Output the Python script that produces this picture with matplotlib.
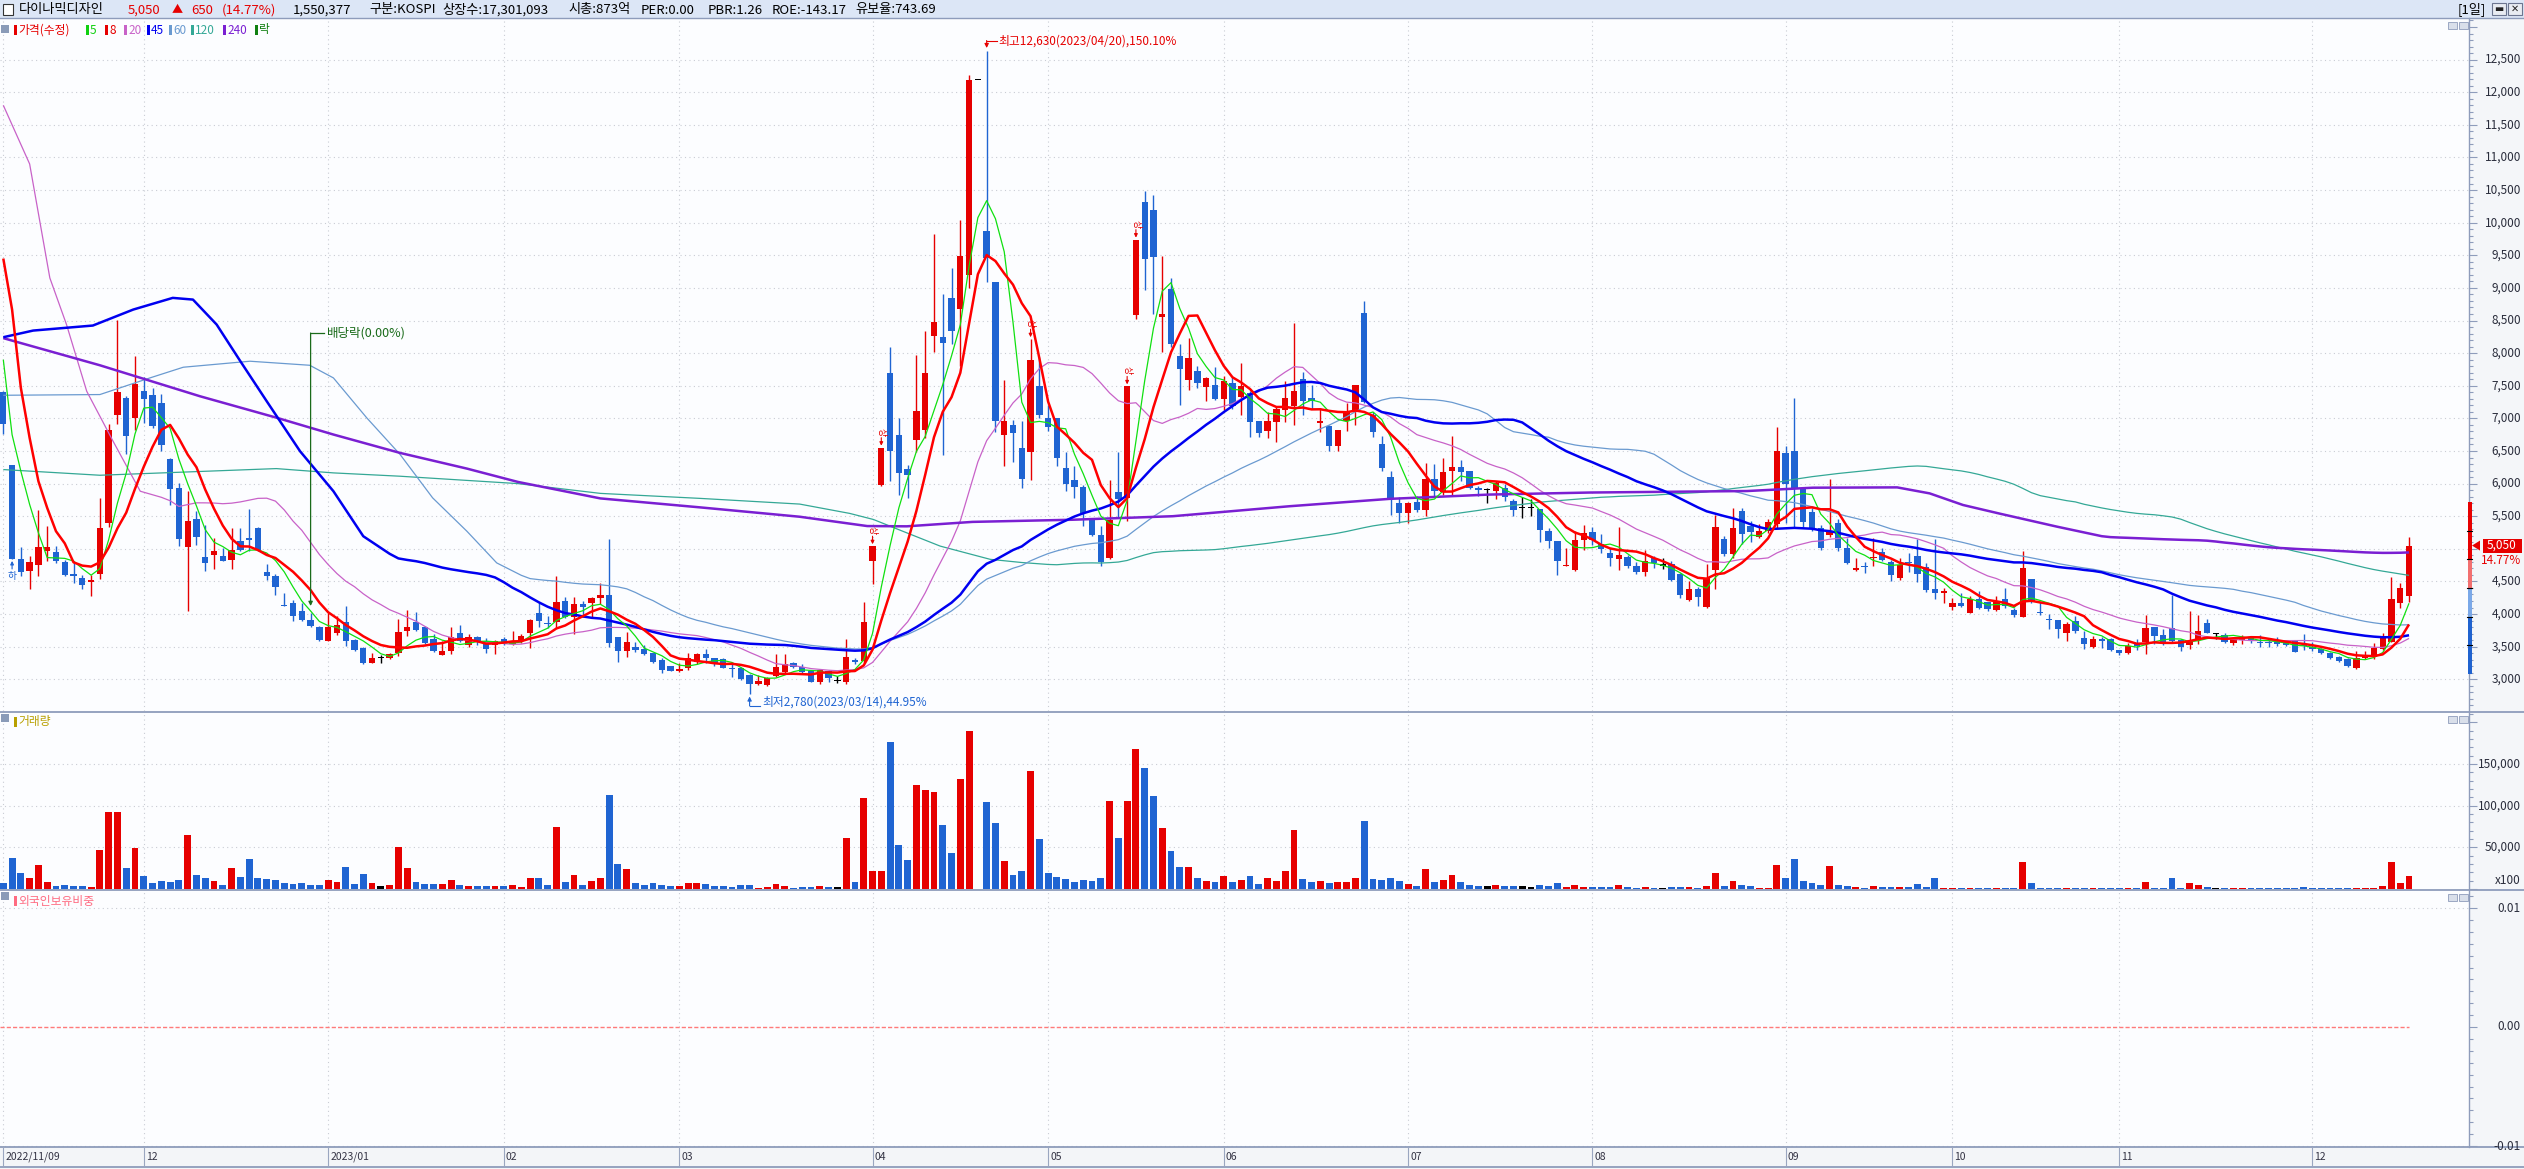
import numpy as np
import pandas as pd
import matplotlib
matplotlib.use("Agg")
import matplotlib.pyplot as plt
from matplotlib.patches import Rectangle, Polygon
from matplotlib.lines import Line2D
from matplotlib.ticker import MultipleLocator

plt.rcParams['font.family'] = ['Noto Sans CJK KR', 'DejaVu Sans']
plt.rcParams['axes.unicode_minus'] = False

# ---------------- data ----------------
opens = [7406, 6281, 4851, 4656, 4748, 4973, 4948, 4800, 4615, 4549,
         4498, 4621, 5397, 7058, 7314, 7007, 7416, 7355, 7237, 6384,
         5934, 5024, 5464, 4871, 4912, 4897, 4835, 5117, 5168, 5321,
         4641, 4580, 4135, 4171, 4054, 3915, 3798, 3584, 3711, 3875,
         3609, 3481, 3251, 3328, 3328, 3405, 3737, 3875, 3798, 3619,
         3379, 3440, 3711, 3532, 3645, 3584, 3532, 3620, 3540, 3586,
         3704, 4010, 3867, 3882, 4199, 3959, 4148, 4174, 4250, 4291,
         3652, 3438, 3489, 3458, 3397, 3295, 3208, 3126, 3167, 3269,
         3387, 3320, 3305, 3177, 3167, 3065, 2922, 2912, 3049, 3116,
         3244, 3182, 3131, 2963, 3131, 2988, 2963, 3285, 3274, 4819,
         5986, 7693, 6742, 6222, 6674, 6829, 8267, 8246, 8840, 8671,
         9204, 12193, 9879, 9090, 6748, 6897, 6546, 6492, 7490, 6998,
         7012, 6236, 6053, 5952, 5480, 5210, 4853, 5864, 5783, 8584,
         10318, 10189, 8550, 8989, 7956, 7592, 7727, 7488, 7513, 7299,
         7539, 7334, 7390, 6956, 6813, 6951, 7135, 7196, 7605, 7314,
         6926, 6890, 6583, 6966, 7104, 8617, 7058, 6609, 6098, 5699,
         5546, 5715, 5602, 6072, 5878, 6200, 6251, 6190, 5934, 5909,
         5893, 5929, 5730, 5638, 5638, 5612, 5270, 5117, 4731, 4677,
         5130, 5253, 5074, 4931, 4844, 4880, 4742, 4650, 4864, 4752,
         4762, 4609, 4215, 4379, 4113, 4675, 5145, 4920, 5585, 5350,
         5176, 5278, 5380, 6464, 6505, 5927, 5559, 5314, 5212, 5401,
         5007, 4675, 4735, 4864, 4956, 4803, 4547, 4790, 4895, 4716,
         4379, 4333, 4113, 4164, 4021, 4225, 4190, 4062, 4231, 4062,
         3960, 4537, 4025, 3912, 3909, 3715, 3893, 3638, 3500, 3612,
         3617, 3449, 3408, 3561, 3566, 3796, 3678, 3781, 3602, 3526,
         3602, 3858, 3705, 3679, 3561, 3602, 3643, 3566, 3565, 3566,
         3577, 3587, 3520, 3500, 3459, 3408, 3347, 3311, 3168, 3321,
         3337, 3464, 3577, 4175, 4282]
highs = [7420, 6290, 5024, 4892, 5592, 5346, 5050, 4835, 4784, 4605,
         4605, 5781, 6915, 8515, 7340, 7963, 7630, 7467, 7375, 6394,
         6011, 5883, 5576, 5372, 5168, 5014, 5321, 5321, 5612, 5331,
         4769, 4616, 4324, 4222, 4171, 4017, 3813, 4017, 3967, 4120,
         3624, 3491, 3405, 3379, 3405, 3931, 4069, 4028, 3813, 3696,
         3594, 3798, 3829, 3696, 3660, 3635, 3609, 3650, 3739, 3693,
         3918, 4189, 3969, 4588, 4266, 4266, 4204, 4266, 4470, 5145,
         3652, 3729, 3576, 3525, 3407, 3320, 3208, 3254, 3397, 3407,
         3458, 3331, 3320, 3254, 3193, 3075, 3065, 3039, 3387, 3387,
         3269, 3233, 3141, 3152, 3141, 3049, 3612, 3331, 4185, 5040,
         6550, 8091, 6998, 6290, 7976, 8347, 9832, 8901, 9312, 10034,
         12261, 12193, 12630, 9090, 7585, 6978, 6964, 8213, 7943, 7200,
         7012, 6492, 6269, 5986, 5480, 5345, 6053, 6479, 7490, 9740,
         10486, 10426, 9495, 9157, 8145, 8226, 7799, 7631, 7784, 7646,
         7631, 7845, 7426, 6956, 7104, 7196, 7569, 8464, 7707, 7513,
         7155, 6900, 6823, 7232, 7513, 8796, 7094, 6726, 6200, 5791,
         5715, 5817, 6312, 6302, 6389, 6726, 6363, 6190, 5960, 5929,
         6036, 5996, 5766, 5791, 5766, 5612, 5316, 5117, 5009, 5280,
         5367, 5339, 5222, 5017, 5339, 4905, 4793, 4982, 4890, 4854,
         4818, 4624, 4512, 4420, 4762, 5518, 5196, 5620, 5620, 5426,
         5380, 5452, 6862, 6576, 7307, 5927, 5631, 5365, 6065, 5452,
         5161, 4854, 4803, 5161, 5017, 4828, 4854, 4930, 5145, 4788,
         5145, 4404, 4251, 4317, 4282, 4358, 4190, 4280, 4394, 4088,
         4967, 4537, 4190, 3996, 3909, 3883, 3970, 3740, 3663, 3653,
         3628, 3449, 3551, 3612, 3985, 3806, 3771, 4292, 3617, 4047,
         3985, 3919, 3705, 3705, 3653, 3679, 3653, 3679, 3602, 3643,
         3602, 3602, 3689, 3566, 3474, 3423, 3357, 3332, 3434, 3434,
         3551, 3704, 4563, 4471, 5186]
lows = [6767, 4845, 4580, 4391, 4590, 4820, 4784, 4590, 4478, 4391,
        4273, 4544, 5331, 6920, 6460, 6828, 6930, 6854, 6506, 5678,
        5050, 4043, 5065, 4657, 4697, 4810, 4697, 4973, 4973, 4973,
        4529, 4289, 4120, 3890, 3890, 3798, 3594, 3584, 3686, 3517,
        3440, 3236, 3251, 3251, 3318, 3354, 3670, 3737, 3543, 3420,
        3369, 3389, 3573, 3491, 3532, 3405, 3389, 3530, 3525, 3550,
        3484, 3806, 3780, 3780, 3934, 3693, 3959, 3959, 4153, 3499,
        3269, 3346, 3422, 3371, 3254, 3101, 3131, 3116, 3141, 3233,
        3254, 3203, 3167, 3029, 2988, 2780, 2912, 2896, 3039, 3101,
        3167, 3101, 2963, 2922, 2963, 2947, 2922, 3233, 3243, 4455,
        5966, 6033, 5818, 5784, 6492, 6694, 8024, 6438, 8145, 7807,
        9002, 12193, 9090, 6796, 6269, 6337, 5939, 6054, 6998, 6809,
        6269, 5885, 5784, 5345, 5197, 4738, 4839, 5493, 5426, 8530,
        8975, 8597, 8024, 8098, 7200, 7437, 7470, 7273, 7288, 7135,
        7145, 7058, 6721, 6711, 6701, 6645, 6951, 6905, 7058, 7145,
        6798, 6496, 6496, 6813, 6905, 7237, 6721, 6200, 5525, 5398,
        5398, 5561, 5500, 5791, 5827, 5832, 6036, 5919, 5806, 5699,
        5766, 5740, 5500, 5469, 5510, 5111, 5009, 4606, 4731, 4667,
        4984, 5058, 4931, 4737, 4675, 4711, 4614, 4583, 4701, 4685,
        4512, 4251, 4205, 4123, 4098, 4384, 4890, 4864, 5069, 5109,
        5161, 5237, 5314, 5391, 5339, 5329, 5278, 4982, 5176, 4966,
        4767, 4665, 4634, 4737, 4818, 4512, 4522, 4650, 4496, 4333,
        4226, 4174, 4062, 4113, 4021, 4077, 4052, 4040, 4098, 3960,
        3960, 4164, 3985, 3771, 3638, 3587, 3715, 3464, 3485, 3485,
        3434, 3372, 3388, 3449, 3388, 3536, 3526, 3577, 3439, 3464,
        3541, 3705, 3612, 3551, 3526, 3541, 3551, 3500, 3500, 3515,
        3515, 3423, 3449, 3439, 3388, 3311, 3270, 3193, 3158, 3311,
        3311, 3449, 3577, 4098, 4190]
closes = [6920, 4845, 4641, 4794, 5024, 5024, 4820, 4605, 4590, 4442,
          4523, 5321, 6818, 7401, 6736, 7528, 7303, 6890, 6598, 5924,
          5157, 5423, 5183, 4784, 4963, 4820, 4989, 4989, 5132, 4989,
          4580, 4411, 4120, 3977, 3915, 3813, 3609, 3798, 3839, 3594,
          3456, 3251, 3328, 3328, 3389, 3722, 3798, 3762, 3558, 3440,
          3440, 3645, 3584, 3645, 3584, 3466, 3594, 3545, 3586, 3668,
          3908, 3898, 3857, 4179, 3959, 4148, 4112, 4240, 4291, 3561,
          3433, 3566, 3448, 3382, 3269, 3141, 3131, 3157, 3320, 3387,
          3331, 3228, 3177, 3167, 3003, 2922, 2973, 3014, 3182, 3233,
          3182, 3116, 2963, 3141, 3014, 2988, 3335, 3275, 3875, 5040,
          6550, 6506, 6168, 6134, 7113, 7693, 8482, 8159, 8347, 9494,
          12193, 12193, 9461, 6964, 6964, 6782, 6074, 7896, 7052, 6863,
          6391, 5999, 5952, 5548, 5210, 4805, 5446, 5763, 7490, 9740,
          9441, 9481, 8597, 8145, 7754, 7922, 7538, 7615, 7299, 7569,
          7196, 7503, 6951, 6777, 6956, 7145, 7309, 7416, 7273, 7273,
          6967, 6583, 6823, 7110, 7513, 7247, 6798, 6241, 5776, 5546,
          5699, 5602, 6072, 5893, 6185, 6251, 6185, 5929, 5904, 5909,
          6006, 5791, 5602, 5638, 5638, 5295, 5117, 4820, 4752, 5137,
          5246, 5135, 4992, 4854, 4905, 4737, 4650, 4818, 4777, 4752,
          4522, 4292, 4379, 4256, 4547, 5339, 4920, 5314, 5227, 5253,
          5278, 5406, 6505, 5988, 5927, 5416, 5314, 5017, 5278, 5017,
          4787, 4700, 4728, 4874, 4828, 4599, 4752, 4784, 4614, 4369,
          4328, 4343, 4164, 4123, 4225, 4098, 4077, 4205, 4123, 3985,
          4711, 4200, 4021, 3909, 3766, 3847, 3740, 3536, 3617, 3592,
          3449, 3398, 3510, 3515, 3781, 3668, 3551, 3587, 3500, 3577,
          3740, 3715, 3705, 3577, 3628, 3628, 3592, 3561, 3561, 3536,
          3526, 3423, 3515, 3459, 3398, 3321, 3285, 3209, 3332, 3357,
          3485, 3664, 4231, 4400, 5050]
# volume, in units of 100 shares (axis shows x100)
volume = [7700, 37800, 19500, 13400, 29300, 8500, 3700, 4900, 3700, 3700,
          2400, 46300, 92700, 92700, 25600, 48800, 15900, 7300, 9800, 8500,
          11000, 64600, 17100, 13400, 9800, 4900, 25600, 14600, 36600, 13400,
          12200, 11000, 7300, 6100, 7300, 4900, 4900, 11000, 8500, 26800,
          6100, 18300, 7300, 3700, 4900, 50000, 25600, 8500, 6100, 6100,
          6100, 11000, 4900, 3700, 3700, 3700, 3700, 3700, 4900, 2400,
          13400, 13400, 4900, 74400, 8500, 17100, 4900, 9800, 13400, 113400,
          30500, 24400, 7300, 4900, 7300, 4900, 3700, 3700, 7300, 7300,
          6100, 3700, 3700, 2400, 4900, 4900, 1200, 2400, 6100, 3700,
          1200, 2400, 2400, 3700, 2400, 2400, 61000, 8500, 109800, 22000,
          22000, 176800, 52400, 35400, 124400, 118300, 115900, 76800, 42700, 131700,
          190000, 300, 104900, 79300, 34100, 17100, 22000, 141500, 59800, 19500,
          14600, 12200, 8500, 11000, 9800, 13400, 106100, 61000, 106100, 168300,
          145100, 112200, 73200, 45100, 26800, 26800, 13400, 9800, 8500, 15900,
          8500, 11000, 15900, 6100, 13400, 9800, 22000, 70700, 12200, 8500,
          9800, 7300, 8500, 8500, 13400, 81700, 12200, 11000, 13400, 9800,
          6100, 3700, 24400, 8500, 11000, 17100, 8500, 4900, 3700, 3700,
          4900, 3700, 3700, 3700, 2400, 4900, 3700, 7300, 2400, 4900,
          2400, 2400, 2400, 2400, 4900, 2400, 1200, 2400, 1200, 1200,
          2400, 2400, 2400, 1200, 3700, 19500, 3700, 9800, 4900, 3700,
          1200, 1200, 29300, 13400, 36600, 9800, 7300, 4900, 28000, 4900,
          3700, 2400, 1200, 3700, 2400, 2400, 2400, 2400, 6100, 2400,
          13400, 1200, 1200, 1200, 1200, 1200, 1200, 1200, 1200, 1200,
          32900, 7300, 1200, 1200, 1200, 1200, 1200, 1200, 1200, 1200,
          1200, 1200, 1200, 1200, 8500, 1200, 1200, 13400, 1200, 7300,
          4900, 2400, 1200, 1200, 1200, 1200, 1200, 1200, 1200, 1200,
          1200, 1200, 2400, 1200, 1200, 1200, 1200, 1200, 1200, 1200,
          1200, 3700, 32900, 7300, 15504]

# KRX holidays in the period (trading calendar for the x axis)
holidays = ['2022-12-30', '2023-01-23', '2023-01-24', '2023-03-01', '2023-05-01',
            '2023-05-05', '2023-05-29', '2023-06-06', '2023-08-15', '2023-09-28',
            '2023-09-29', '2023-10-02', '2023-10-03', '2023-10-09']

# moving averages whose window reaches before the first visible day:
# the visible start of each line (index, value)
ma5_head = ([0, 1, 2, 3], [7900, 6750, 6190, 5680])
ma8_head = ([0, 1, 2, 3, 4, 5, 6], [9450, 8668, 7467, 6700, 6036, 5627, 5270])
ma20_head = ([0, 3.0, 5.3, 7.2, 9.5, 12.5, 15.6, 18.0],
             [11800, 10900, 9153, 8438, 7416, 6650, 5883, 5790])
ma45_head = ([0, 3.4, 10.2, 14.8, 19.3, 21.6, 24.3, 27.0, 30.0, 33.8, 37.6, 41.0],
             [8244, 8346, 8423, 8668, 8847, 8821, 8438, 7876, 7263, 6496, 5883, 5193])
ma60_head = ([0, 11.0, 16.7, 20.5, 28.1, 34.9, 37.6, 41.4, 45.2, 48.9, 52.8, 56.2],
             [7354, 7365, 7620, 7784, 7876, 7814, 7620, 7007, 6445, 5781, 5270, 4784])
ma120_head = ([0, 11, 26.2, 31.1, 37.6, 45.2, 58.6, 68, 79.4, 90.7, 96.4, 99.1, 102.1, 106.7, 112.4, 116.0],
              [6215, 6128, 6205, 6230, 6164, 6113, 6000, 5850, 5773, 5686, 5543, 5450, 5288, 5042, 4839, 4790])
ma240_head = ([0, 11, 22.4, 31.2, 37.6, 45.2, 52.8, 58.6, 68, 79.4, 90.7, 98.4, 102.9, 110.4, 121.8,
               133.2, 146.5, 157.9, 169.3, 180.7, 198.6, 206.1, 215.7, 219.4, 223.2, 227.4, 233.9],
              [8230, 7814, 7339, 7007, 6752, 6470, 6230, 6026, 5773, 5635, 5492, 5349, 5345, 5413, 5446,
               5500, 5653, 5766, 5832, 5863, 5886, 5937, 5942, 5850, 5672, 5539, 5340])

upper_limit_days = [99, 100, 117, 128, 129]
lower_limit_days = [1]
ex_dividend_day = 35

# ---------------- layout helpers ----------------
W, H = 2524, 1169
X0, DX = 3.3, 8.78          # pixel x of first candle and candle spacing
AX_W = 2469                 # right edge of plotting area (axis line)
P_TOP, P_BOT = 18, 711
V_TOP, V_BOT = 712, 889
F_TOP, F_BOT = 890, 1147

RED, BLUE, BLACK = '#e60000', '#1f64d2', '#000000'
EDGE = '#8e9cbb'
GRID = '#c9ccd4'


def ppx(p):   # price -> pixel y
    return 59.6 + (12500 - p) * 0.06523


def pval(py):  # pixel y -> price
    return 12500 - (py - 59.6) / 0.06523


fig = plt.figure(figsize=(W / 100, H / 100), dpi=100, facecolor='white')


def ftxt(px, py, s, **kw):
    kw.setdefault('va', 'center')
    kw.setdefault('fontsize', 8.5)
    return fig.text(px / W, 1 - py / H, s, **kw)


def frect(x0, y0, x1, y1, **kw):
    r = Rectangle((x0 / W, 1 - y1 / H), (x1 - x0) / W, (y1 - y0) / H,
                  transform=fig.transFigure, **kw)
    fig.add_artist(r)
    return r


def fline(xs, ys, **kw):
    fig.add_artist(Line2D([x / W for x in xs], [1 - y / H for y in ys],
                          transform=fig.transFigure, **kw))


def add_panel(top, bot):
    ax = fig.add_axes([0, 1 - bot / H, AX_W / W, (bot - top) / H])
    ax.set_facecolor('#fcfdff')
    ax.set_xlim(-X0 / DX, (AX_W - X0) / DX)
    for sp in ('top', 'left', 'bottom'):
        ax.spines[sp].set_visible(False)
    ax.spines['right'].set_color(EDGE)
    ax.spines['right'].set_linewidth(1.0)
    ax.set_xticks([])
    ax.tick_params(axis='y', which='both', left=False, right=True,
                   labelleft=False, labelright=False, direction='out',
                   color=EDGE, width=0.8)
    ax.tick_params(axis='y', which='major', length=6)
    ax.tick_params(axis='y', which='minor', length=3)
    return ax


# backgrounds
frect(AX_W, P_TOP, W, F_BOT, facecolor='#f4f6f9', edgecolor='none', zorder=0)
frect(0, F_BOT, W, H, facecolor='#f3f5f8', edgecolor='none', zorder=0)
frect(0, 0, W, P_TOP, facecolor='#dce6f6', edgecolor='none', zorder=0)

n = len(closes)
x = np.arange(n)
o = np.array(opens, float)
c = np.array(closes, float)
hi = np.array(highs, float)
lo = np.array(lows, float)
cols = np.where(c > o, RED, np.where(c < o, BLUE, BLACK))

dates = pd.bdate_range('2022-11-09', '2023-12-18', freq='C', holidays=holidays)[:n]
month_idx = [0] + [i for i in range(1, n) if dates[i].month != dates[i - 1].month]

# ---------------- price panel ----------------
ax_p = add_panel(P_TOP, P_BOT)
ax_p.set_ylim(pval(P_BOT), pval(P_TOP))
ax_p.yaxis.set_major_locator(MultipleLocator(500))
ax_p.yaxis.set_minor_locator(MultipleLocator(100))
for p in range(3000, 13000, 500):
    ax_p.axhline(p, color=GRID, lw=0.8, ls=(0, (1, 3)), zorder=0)
for m in month_idx:
    ax_p.axvline(m, color=GRID, lw=0.8, ls=(0, (1, 3)), zorder=0)

ax_p.vlines(x, lo, hi, colors=cols, lw=1.0, zorder=2)
body_lo = np.minimum(o, c)
body_h = np.abs(c - o)
flat = body_h < 16
body_lo = np.where(flat, (o + c) / 2 - 8, body_lo)
body_h = np.where(flat, 16, body_h)
ax_p.bar(x, body_h, bottom=body_lo, width=0.72, color=cols, linewidth=0, zorder=3)

s = pd.Series(closes, dtype=float)


def ma_line(win, head):
    comp = s.rolling(win).mean().to_numpy()
    xs = list(head[0]) + [win - 1] + list(range(win, n))
    ys = list(head[1]) + [comp[win - 1]] + list(comp[win:])
    return xs, ys


ma_styles = [(120, ma120_head, '#34a896', 0.9),
             (60, ma60_head, '#6a9ad0', 0.9),
             (20, ma20_head, '#c862c8', 0.9),
             (240, ma240_head, '#7a1fd2', 1.8),
             (45, ma45_head, '#0000f0', 1.8),
             (5, ma5_head, '#10e010', 0.9),
             (8, ma8_head, '#ff0000', 1.8)]
for win, head, col, lw in ma_styles:
    xs, ys = ma_line(win, head)
    ax_p.plot(xs, ys, color=col, lw=lw, zorder=4, solid_capstyle='butt')

# high / low annotations
ih = int(np.argmax(hi))
ax_p.annotate('', xy=(ih, pval(48)), xytext=(ih, pval(40.5)),
              arrowprops=dict(arrowstyle='-|>', color=RED, lw=0.8, mutation_scale=6,
                              shrinkA=0, shrinkB=0), zorder=6)
ax_p.plot([ih, ih + 10 / DX], [pval(40.5)] * 2, color=RED, lw=0.8, zorder=6)
ax_p.text(ih + 12 / DX, pval(41), '최고%s(%s),150.10%%' % (f'{int(hi[ih]):,}', dates[ih].strftime('%Y/%m/%d')),
          color=RED, fontsize=8.5, va='center', ha='left', zorder=6)

il = int(np.argmin(lo))
ax_p.annotate('', xy=(il, pval(696.5)), xytext=(il, pval(706)),
              arrowprops=dict(arrowstyle='-|>', color=BLUE, lw=0.8, mutation_scale=6,
                              shrinkA=0, shrinkB=0), zorder=6)
ax_p.plot([il, il + 10 / DX], [pval(706)] * 2, color=BLUE, lw=0.8, zorder=6)
ax_p.text(il + 13 / DX, pval(702), '최저%s(%s),44.95%%' % (f'{int(lo[il]):,}', dates[il].strftime('%Y/%m/%d')),
          color=BLUE, fontsize=8.5, va='center', ha='left', zorder=6)

# ex-dividend marker
GREEN = '#1a6b1a'
ax_p.plot([ex_dividend_day, ex_dividend_day + 13 / DX], [pval(333)] * 2, color=GREEN, lw=0.9, zorder=6)
ax_p.annotate('', xy=(ex_dividend_day, pval(606)), xytext=(ex_dividend_day, pval(333)),
              arrowprops=dict(arrowstyle='-|>', color=GREEN, lw=0.9, mutation_scale=6,
                              shrinkA=0, shrinkB=0), zorder=6)
ax_p.text(ex_dividend_day + 16 / DX, pval(333), '배당락(0.00%)', color=GREEN,
          fontsize=9, va='center', ha='left', zorder=6)

# upper / lower limit markers
for i in upper_limit_days:
    yh = ppx(hi[i])
    ax_p.annotate('', xy=(i, pval(yh - 2)), xytext=(i, pval(yh - 10)),
                  arrowprops=dict(arrowstyle='-|>', color=RED, lw=0.8, mutation_scale=5,
                                  shrinkA=0, shrinkB=0), zorder=6)
    ax_p.text(i, pval(yh - 16), '상', color=RED, fontsize=6.5, rotation=270,
              ha='center', va='center', zorder=6)
for i in lower_limit_days:
    yl = ppx(lo[i])
    ax_p.annotate('', xy=(i, pval(yl + 2)), xytext=(i, pval(yl + 10)),
                  arrowprops=dict(arrowstyle='-|>', color=BLUE, lw=0.8, mutation_scale=5,
                                  shrinkA=0, shrinkB=0), zorder=6)
    ax_p.text(i, pval(yl + 17), '하', color=BLUE, fontsize=7, ha='center', va='center', zorder=6)

# ---------------- volume panel ----------------
ax_v = add_panel(V_TOP, V_BOT)
ax_v.set_ylim(0, (V_BOT - V_TOP) * 1200)
ax_v.yaxis.set_major_locator(MultipleLocator(50000))
ax_v.yaxis.set_minor_locator(MultipleLocator(10000))
for v in (50000, 100000, 150000):
    ax_v.axhline(v, color=GRID, lw=0.8, ls=(0, (1, 3)), zorder=0)
for m in month_idx:
    ax_v.axvline(m, color=GRID, lw=0.8, ls=(0, (1, 3)), zorder=0)
ax_v.bar(x, volume, width=0.78, color=cols, linewidth=0, zorder=3)

# ---------------- foreign ownership panel ----------------
ax_f = add_panel(F_TOP, F_BOT)
ax_f.set_ylim(-0.01 * 120 / 119, 0.01 + 0.01 * 18 / 119)
ax_f.yaxis.set_major_locator(MultipleLocator(0.01))
ax_f.yaxis.set_minor_locator(MultipleLocator(0.001))
for v in (0.01, -0.01):
    ax_f.axhline(v, color=GRID, lw=0.8, ls=(0, (1, 3)), zorder=0)
for m in month_idx:
    ax_f.axvline(m, color=GRID, lw=0.8, ls=(0, (1, 3)), zorder=0)
ax_f.plot([-0.4, n - 1], [0, 0], color='#ff7a7a', lw=1.0, ls=(0, (3, 1.5)), zorder=3)

# ---------------- frame lines ----------------
fline([0, W], [P_TOP, P_TOP], color=EDGE, lw=1.0)
fline([0, W], [711.5, 711.5], color=EDGE, lw=1.3)
fline([0, W], [889.5, 889.5], color=EDGE, lw=1.3)
fline([0, W], [F_BOT, F_BOT], color=EDGE, lw=1.3)
fline([0, W], [1167, 1167], color=EDGE, lw=1.3)

# ---------------- right axis labels ----------------
LBL = '#2a2d3c'
for p in range(3000, 13000, 500):
    if abs(p - closes[-1]) < 200:
        continue
    ftxt(2521, ppx(p), f'{p:,}', ha='right', color=LBL, fontsize=8.5)
for v in (50000, 100000, 150000):
    ftxt(2521, V_BOT - v / 1200, f'{v:,}', ha='right', color=LBL, fontsize=8.5)
ftxt(2521, 881, 'x100', ha='right', color=LBL, fontsize=8.5)
for v, lab in ((0.01, '0.01'), (0.0, '0.00'), (-0.01, '-0.01')):
    ftxt(2521, 1027 - v * 11900, lab, ha='right', color=LBL, fontsize=8.5)

# price-limit bar on the axis line and current price tag
prev = closes[-2]
segs = [(prev * 1.3, prev * 1.1, '#e60000'), (prev * 1.1, prev, '#f27070'),
        (prev, prev * 0.9, '#7aa8e8'), (prev * 0.9, prev * 0.7, '#1f62cf')]
for top, bot, col in segs:
    frect(2467.5, ppx(top), 2471.5, ppx(bot), facecolor=col, edgecolor='none', zorder=5)
for k in (1.2, 1.1, 1.0, 0.9, 0.8):
    fline([2467, 2472], [ppx(prev * k)] * 2, color='black', lw=0.8, zorder=6)
yc = ppx(closes[-1])
fig.add_artist(Polygon([((2472) / W, 1 - yc / H), (2480 / W, 1 - (yc - 5) / H), (2480 / W, 1 - (yc + 5) / H)],
                       closed=True, transform=fig.transFigure, facecolor=RED, edgecolor='none'))
frect(2483, yc - 7, 2521.5, yc + 7, facecolor=RED, edgecolor='none', zorder=5)
ftxt(2502, yc, f'{closes[-1]:,}', ha='center', color='white', fontsize=8.5, zorder=6)
chg = closes[-1] - prev
pct = chg / prev * 100
ftxt(2521, yc + 15, f'{pct:.2f}%', ha='right', color=RED, fontsize=8.5)

# ---------------- date axis ----------------
for m in month_idx:
    d = dates[m]
    if m == 0:
        lab = d.strftime('%Y/%m/%d')
    elif d.month == 1:
        lab = d.strftime('%Y/%m')
    else:
        lab = d.strftime('%m')
    xp = X0 + DX * m
    fline([xp, xp], [F_BOT, F_BOT + 18], color='#9aa6c0', lw=0.8)
    ftxt(xp + 2, 1157, lab, ha='left', color='#333344', fontsize=7.5)

# ---------------- header ----------------
frect(3, 4, 13, 15, facecolor='white', edgecolor='#333333', lw=0.8, zorder=2)
ftxt(19, 10, '다이나믹디자인', color='black', fontsize=9.5)
ftxt(128, 10, f'{closes[-1]:,}', color=RED, fontsize=9.5)
ftxt(172, 10, '▲', color=RED, fontsize=8)
ftxt(191, 10, f'{chg:,}', color=RED, fontsize=9.5)
ftxt(222, 10, f'({pct:.2f}%)', color=RED, fontsize=9.5)
header_items = [(293, '1,550,377'), (369, '구분:KOSPI'), (442, '상장수:17,301,093'),
                (568, '시총:873억'), (641, 'PER:0.00'), (708, 'PBR:1.26'),
                (772, 'ROE:-143.17'), (855, '유보율:743.69')]
for xp, t in header_items:
    ftxt(xp, 10, t, color='black', fontsize=9.5)
ftxt(2458, 9, '[1일]', color='black', fontsize=9.5)
for bx, sym in ((2492, '▬'), (2508, '✕')):
    frect(bx, 3, bx + 14, 15, facecolor='#e8ecf2', edgecolor='#6c7690', lw=0.8, zorder=2)
    ftxt(bx + 7, 9, sym, ha='center', color='#222222', fontsize=7)

# small panel buttons
for yb in (22, 716, 894):
    for bx in (2448, 2459):
        frect(bx, yb, bx + 9, yb + 7, facecolor='#d9dfea', edgecolor='#8e9cbb', lw=0.6, zorder=2)

# legend row of price panel
frect(1, 25, 9, 33, facecolor='#8a9bb8', edgecolor='none', zorder=2)
legend = [('가격(수정)', RED, 14), ('5', '#10d010', 86), ('8', RED, 105), ('20', '#c862c8', 124),
          ('45', '#0000f0', 147), ('60', '#6a9ad0', 169), ('120', '#34a896', 191),
          ('240', '#7a1fd2', 223), ('락', '#108010', 255)]
for lab, col, xp in legend:
    frect(xp, 25, xp + 2.5, 35, facecolor=col, edgecolor='none', zorder=2)
    ftxt(xp + 4, 30, lab, color=col, fontsize=8.5)

# panel titles
frect(1, 714, 9, 722, facecolor='#8a9bb8', edgecolor='none', zorder=2)
frect(14, 717, 16.5, 727, facecolor='#b8a000', edgecolor='none', zorder=2)
ftxt(18, 722, '거래량', color='#b8a000', fontsize=8.5)
frect(1, 892, 9, 900, facecolor='#8a9bb8', edgecolor='none', zorder=2)
frect(14, 896, 16.5, 906, facecolor='#ff6b81', edgecolor='none', zorder=2)
ftxt(18, 901, '외국인보유비중', color='#ff6b81', fontsize=8.5)

fig.savefig('out.png', dpi=100, facecolor='white')
